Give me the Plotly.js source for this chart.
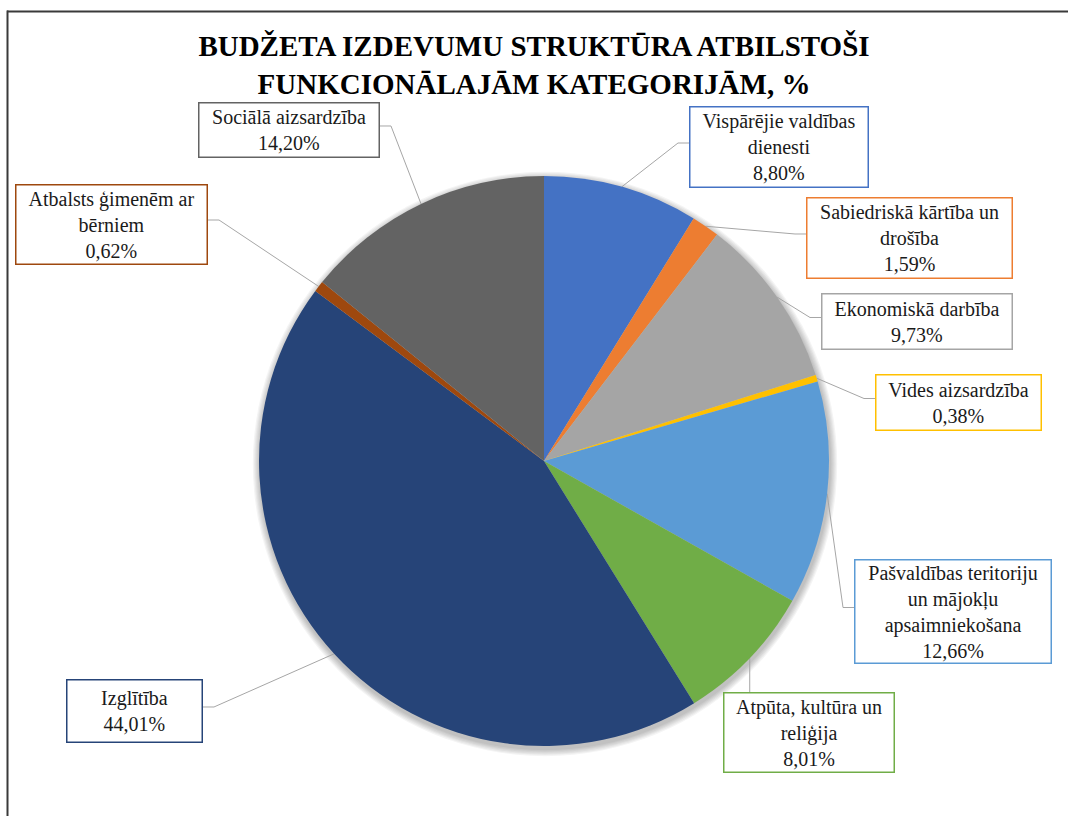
<!DOCTYPE html>
<html>
<head>
<meta charset="utf-8">
<script src="https://cdn.plot.ly/plotly-3.0.1.min.js"></script>
<style>html,body{margin:0;padding:0;background:#fff;}#chart{width:1068px;height:816px;}</style>
</head>
<body>
<div id="chart"></div>
<script>
// ---- data ----
const categories = [
  "Vispārējie valdības dienesti",
  "Sabiedriskā kārtība un drošība",
  "Ekonomiskā darbība",
  "Vides aizsardzība",
  "Pašvaldības teritoriju un mājokļu apsaimniekošana",
  "Atpūta, kultūra un reliģija",
  "Izglītība",
  "Atbalsts ģimenēm ar bērniem",
  "Sociālā aizsardzība"
];
const values = [8.80, 1.59, 9.73, 0.38, 12.66, 8.01, 44.01, 0.62, 14.20];
const labelLines = [
  ["Vispārējie valdības", "dienesti"],
  ["Sabiedriskā kārtība un", "drošība"],
  ["Ekonomiskā darbība"],
  ["Vides aizsardzība"],
  ["Pašvaldības teritoriju", "un mājokļu", "apsaimniekošana"],
  ["Atpūta, kultūra un", "reliģija"],
  ["Izglītība"],
  ["Atbalsts ģimenēm ar", "bērniem"],
  ["Sociālā aizsardzība"]
];
const colors = ["#4472C4", "#ED7D31", "#A5A5A5", "#FFC000", "#5B9BD5", "#70AD47", "#264478", "#9E480E", "#636363"];
const titleText = "BUDŽETA IZDEVUMU STRUKTŪRA ATBILSTOŠI<br>FUNKCIONĀLAJĀM KATEGORIJĀM, %";

// ---- layout geometry (pixels) ----
const W = 1068, H = 816;
const CX = 544, CY = 461, R = 285;
const SERIF = "Liberation Serif, Times New Roman, serif";
// label boxes: centre, size, side where the leader line attaches
const boxes = [
  {cx: 779,   cy: 147,   w: 180, h: 82,  side: "left"},
  {cx: 909.5, cy: 238,   w: 207, h: 82,  side: "left"},
  {cx: 917,   cy: 321.5, w: 192, h: 57,  side: "left"},
  {cx: 958.5, cy: 402.5, w: 167, h: 57,  side: "left"},
  {cx: 953,   cy: 611.5, w: 198, h: 105, side: "left"},
  {cx: 809,   cy: 732.5, w: 172, h: 81,  side: "top"},
  {cx: 134.5, cy: 711,   w: 137, h: 64,  side: "right"},
  {cx: 111.5, cy: 224,   w: 193, h: 81,  side: "right"},
  {cx: 289,   cy: 130,   w: 182, h: 56,  side: "right"}
];
const px = x => x / W;
const py = y => 1 - y / H;
const fmt = v => v.toFixed(2).replace(".", ",") + "%";

const total = values.reduce((a, b) => a + b, 0);
let cum = 0;
const annotations = [];
const shapes = [];

// soft shadow behind the pie
for (let i = 6; i >= 1; i--) {
  const r = R + i * 1.2;
  shapes.push({
    type: "circle", xref: "paper", yref: "paper", layer: "below",
    x0: px(CX + 1 - r), x1: px(CX + 1 + r), y0: py(CY + 3 + r), y1: py(CY + 3 - r),
    fillcolor: "rgba(0,0,0,0.045)", line: {width: 0}
  });
}

values.forEach((v, i) => {
  const b = boxes[i];
  const ang = (cum + v / 2) / total * 2 * Math.PI;
  cum += v;
  const ex = CX + R * Math.sin(ang);
  const ey = CY - R * Math.cos(ang);
  const bw = 1.5;
  annotations.push({
    xref: "paper", yref: "paper", x: px(b.cx), y: py(b.cy),
    xanchor: "center", yanchor: "middle", showarrow: false,
    text: labelLines[i].join("<br>") + "<br>" + fmt(v),
    align: "center", valign: "middle",
    width: b.w - 2 * bw, height: b.h - 2 * bw, borderpad: 0,
    bordercolor: colors[i], borderwidth: bw, bgcolor: "#ffffff",
    font: {family: SERIF, size: 20, color: "#1a1a1a"}
  });
  let pts;
  const ay = b.cy - 4;
  if (b.side === "left") {
    const lx = b.cx - b.w / 2;
    pts = [[ex, ey], [lx - 11, ay], [lx, ay]];
  } else if (b.side === "right") {
    const rx = b.cx + b.w / 2;
    pts = [[ex, ey], [rx + 11, ay], [rx, ay]];
  } else {
    pts = [[ex, ey], [ex, b.cy - b.h / 2]];
  }
  const path = pts.map((p, k) => (k ? "L" : "M") + px(p[0]).toFixed(5) + "," + py(p[1]).toFixed(5)).join(" ");
  shapes.push({type: "path", xref: "paper", yref: "paper", path: path, layer: "below",
    line: {color: "#A6A6A6", width: 1}});
});

// outer frame (top and left edges visible)
shapes.push({type: "line", xref: "paper", yref: "paper", x0: px(7), x1: 1, y0: py(11.5), y1: py(11.5), line: {color: "#3a3a3a", width: 2}});
shapes.push({type: "line", xref: "paper", yref: "paper", x0: px(7.5), x1: px(7.5), y0: py(10.5), y1: 0, line: {color: "#3a3a3a", width: 2}});

const trace = {
  type: "pie",
  labels: categories,
  values: values,
  sort: false,
  direction: "clockwise",
  rotation: 0,
  textinfo: "none",
  hovertemplate: "%{label}<br>%{value:.2f}%<extra></extra>",
  marker: {colors: colors, line: {width: 0}},
  domain: {x: [px(CX - R), px(CX + R)], y: [py(CY + R), py(CY - R)]},
  showlegend: false
};

const layout = {
  width: W, height: H,
  margin: {l: 0, r: 0, t: 0, b: 0},
  paper_bgcolor: "#ffffff",
  showlegend: false,
  title: {
    text: "<b>" + titleText + "</b>",
    x: 0.5, xanchor: "center", xref: "paper",
    y: py(56), yanchor: "middle", yref: "container",
    font: {family: SERIF, size: 29, color: "#000000"}
  },
  annotations: annotations,
  shapes: shapes
};

Plotly.newPlot("chart", [trace], layout, {displayModeBar: false});
</script>
</body>
</html>
